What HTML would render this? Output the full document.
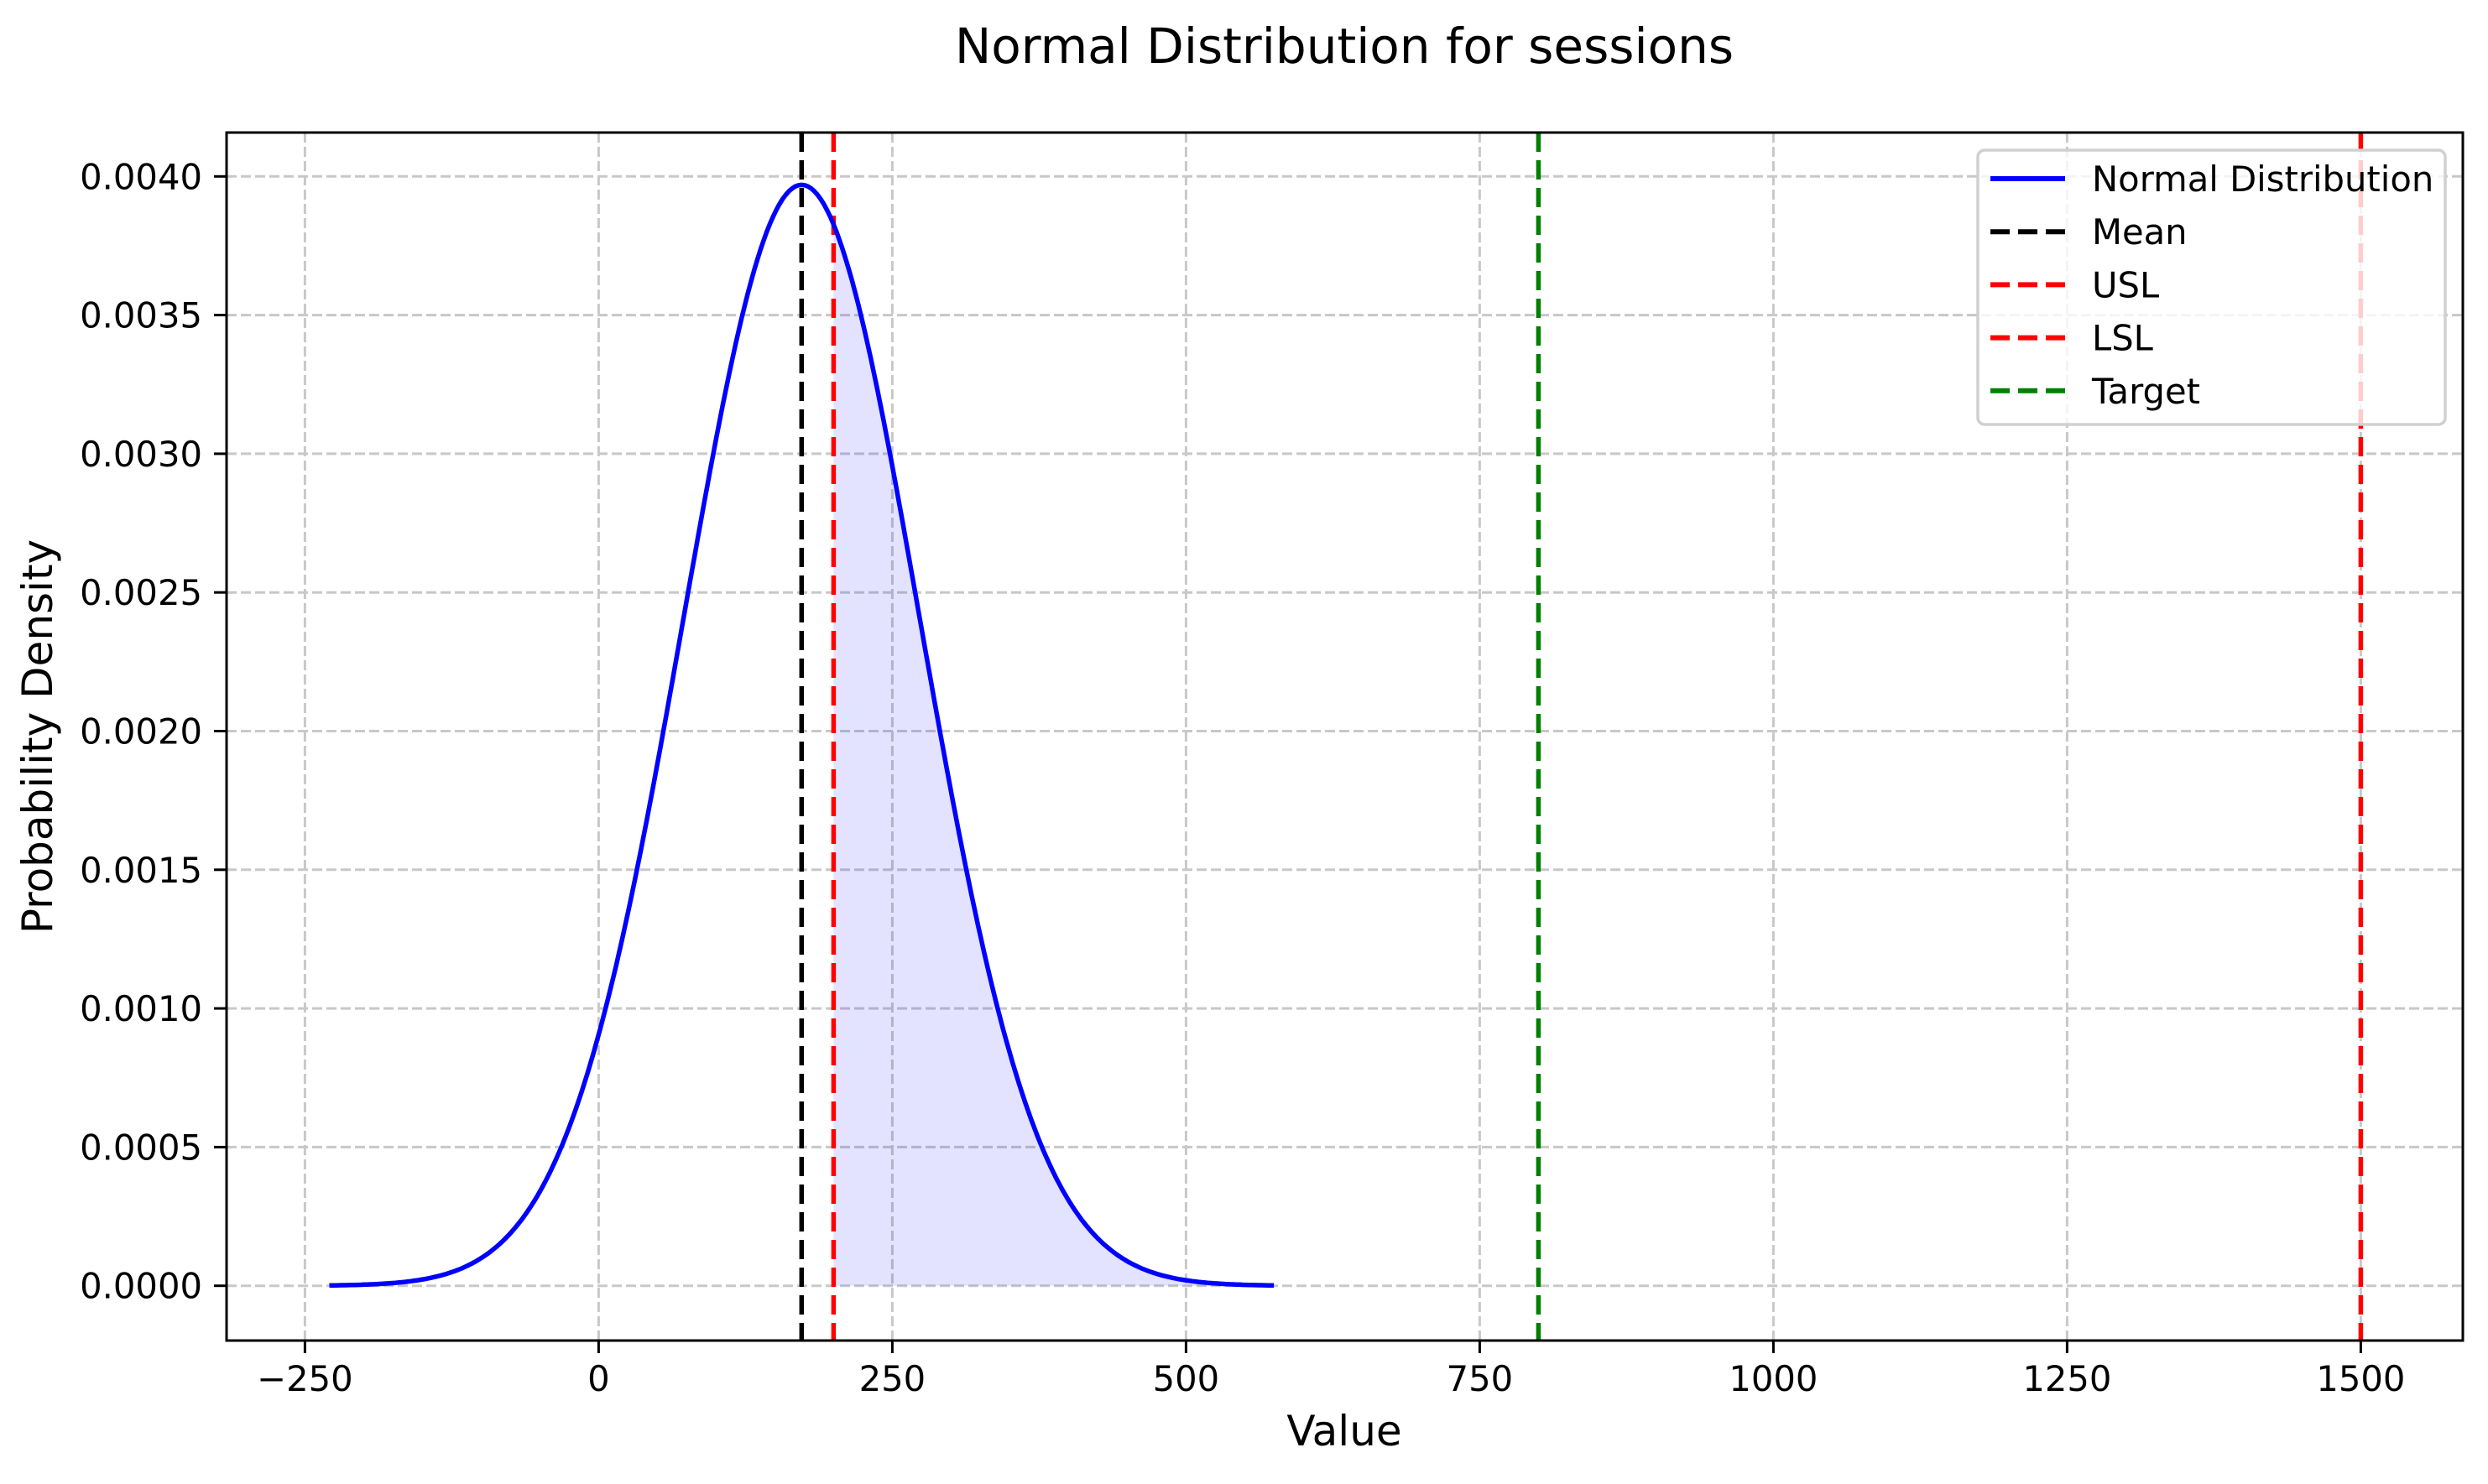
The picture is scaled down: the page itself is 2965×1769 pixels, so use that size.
<!DOCTYPE html>
<html><head><meta charset="utf-8"><style>
html,body{margin:0;padding:0;background:#fff;}
svg text{font-family:"DejaVu Sans","Liberation Sans",sans-serif;}
</style></head><body>
<svg id="chart" width="2965" height="1764" xmlns="http://www.w3.org/2000/svg">
<rect width="2965" height="1764" fill="#fff"/>
<g id="grid"></g>
<g id="plot"></g>
<rect x="270" y="158" width="2665" height="1440" fill="none" stroke="#000" stroke-width="3"/>
<g id="ticks"></g>
<text x="1602" y="75" font-size="58" text-anchor="middle">Normal Distribution for sessions</text>
<text x="1602" y="1723" font-size="50" text-anchor="middle">Value</text>
<text transform="translate(62,878) rotate(-90)" font-size="50" text-anchor="middle">Probability Density</text>
<g id="legend"></g>
</svg>
<script>
// data
const distMean = [172.8];
const distStd = [100.5];
const refLabels = ["Mean", "USL", "LSL", "Target"];
const refValues = [172.8, 1500, 200, 800];
const refColors = ["#000000", "#ff0000", "#ff0000", "#008000"];
const xTicks = [-250, 0, 250, 500, 750, 1000, 1250, 1500];
const yTicks = [0, 0.0005, 0.0010, 0.0015, 0.0020, 0.0025, 0.0030, 0.0035, 0.0040];
const yTickLabels = ["0.0000","0.0005","0.0010","0.0015","0.0020","0.0025","0.0030","0.0035","0.0040"];

const NS = "http://www.w3.org/2000/svg";
const L = 270, R = 2935, T = 158, B = 1598;
function xs(v){ return 713.4 + v * 1.4; }
function ys(v){ return 1532.7 - v / 0.0005 * 165.3; }
function mk(tag, attrs, parent){
  const e = document.createElementNS(NS, tag);
  for (const k in attrs) e.setAttribute(k, attrs[k]);
  parent.appendChild(e); return e;
}
const grid = document.getElementById('grid');
const plot = document.getElementById('plot');
const ticks = document.getElementById('ticks');
const legend = document.getElementById('legend');

xTicks.forEach(t => {
  const g = mk('line', {x1: xs(t), x2: xs(t), y1: T, y2: B, stroke: '#c8c8c8', 'stroke-width': 3, 'stroke-dasharray': '12 5'}, grid);
  
  
  const tk = mk('line', {x1: xs(t), x2: xs(t), y1: B, y2: B + 15, stroke: '#000', 'stroke-width': 3}, ticks);
  
  
  const tx = mk('text', {x: xs(t), y: 1658, 'font-size': 41.7, 'text-anchor': 'middle'}, ticks);
  tx.textContent = (t < 0 ? '\u2212' + Math.abs(t) : String(t));
  
  
});
yTicks.forEach((t, i) => {
  const g = mk('line', {x1: L, x2: R, y1: ys(t), y2: ys(t), stroke: '#c8c8c8', 'stroke-width': 3, 'stroke-dasharray': '12 5'}, grid);
  
  
  const tk = mk('line', {x1: L - 15, x2: L, y1: ys(t), y2: ys(t), stroke: '#000', 'stroke-width': 3}, ticks);
  
  
  const tx = mk('text', {x: 241, y: ys(t) + 15, 'font-size': 41.7, 'text-anchor': 'end'}, ticks);
  tx.textContent = yTickLabels[i];
  
  
});

// curve
const mu = distMean[0], sd = distStd[0];
function pdf(x){ return Math.exp(-0.5 * ((x - mu) / sd) ** 2) / (sd * Math.sqrt(2 * Math.PI)); }
const x0 = mu - 4 * sd, x1 = mu + 4 * sd, N = 300;
let pts = [];
for (let i = 0; i <= N; i++) { const x = x0 + (x1 - x0) * i / N; pts.push([x, pdf(x)]); }
// fill from LSL to end
const lsl = refValues[2];
let fpts = pts.filter(p => p[0] >= lsl);
let fd = 'M' + xs(lsl) + ',' + ys(0) + ' L' + xs(lsl) + ',' + ys(pdf(lsl));
fpts.forEach(p => { fd += ' L' + xs(p[0]).toFixed(1) + ',' + ys(p[1]).toFixed(1); });
fd += ' L' + xs(x1) + ',' + ys(0) + ' Z';
const fill = mk('path', {d: fd, fill: '#0000ff', 'fill-opacity': 0.11, stroke: 'none'}, plot);



refValues.forEach((v, i) => {
  const l = mk('line', {x1: xs(v), x2: xs(v), y1: T, y2: B, stroke: refColors[i], 'stroke-width': 5.5, 'stroke-dasharray': '23 10'}, plot);
  
  
});

let d = pts.map((p, i) => (i ? 'L' : 'M') + xs(p[0]).toFixed(1) + ',' + ys(p[1]).toFixed(1)).join(' ');
const curve = mk('path', {d: d, fill: 'none', stroke: '#0000ff', 'stroke-width': 5.5, 'stroke-linejoin': 'round'}, plot);



// legend
const box = mk('rect', {x: 2357, y: 179, width: 557, height: 327, rx: 8, fill: '#fff', 'fill-opacity': 0.8, stroke: '#d0d0d0', 'stroke-width': 3.5}, legend);


const entries = [["Normal Distribution", "#0000ff", false]].concat(refLabels.map((l, i) => [l, refColors[i], true]));
entries.forEach((e, i) => {
  const cy = 213 + i * 63.2;
  const h = mk('line', {x1: 2372, x2: 2461, y1: cy, y2: cy, stroke: e[1], 'stroke-width': 6}, legend);
  if (e[2]) h.setAttribute('stroke-dasharray', '23 10');
  
  
  const t = mk('text', {x: 2493, y: cy + 15, 'font-size': 41.7}, legend);
  t.textContent = e[0];
  
  
});
</script>
</body></html>
